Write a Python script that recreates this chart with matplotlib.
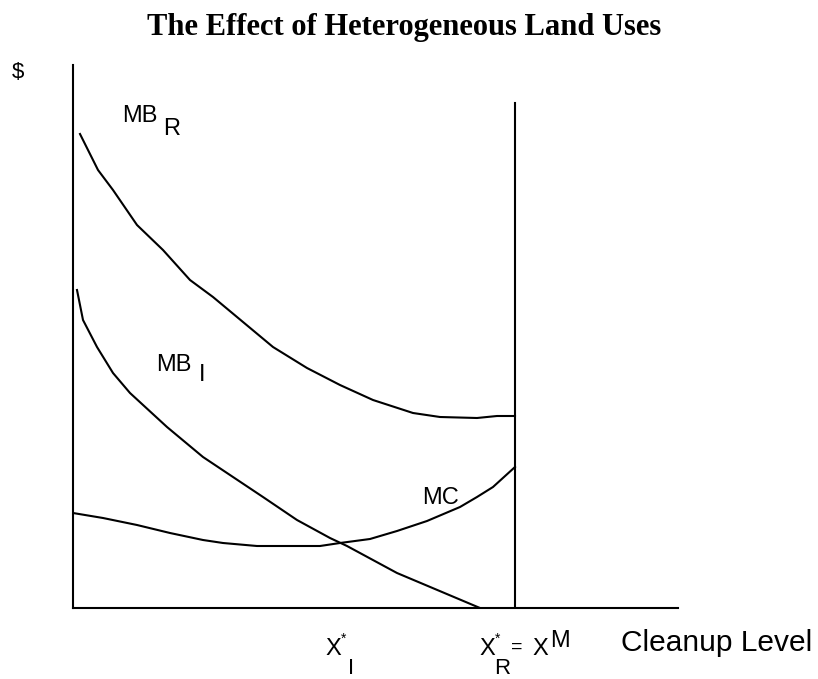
import numpy as np
import matplotlib.pyplot as plt

plt.rcParams['font.family'] = ['Liberation Sans', 'DejaVu Sans']

# curve values (x = cleanup level, y = $)
mbr_x = [0.14, 0.50, 0.80, 1.28, 1.80, 2.34, 2.80, 3.28, 4.00, 4.68, 5.34,
         6.00, 6.80, 7.34, 8.08, 8.48, 8.84]
mbr_y = [9.48, 8.76, 8.36, 7.66, 7.16, 6.56, 6.22, 5.82, 5.22, 4.80, 4.46,
         4.16, 3.90, 3.82, 3.80, 3.84, 3.84]

mbi_x = [0.08, 0.20, 0.48, 0.80, 1.14, 1.88, 2.60, 3.14, 3.80, 4.48, 5.14,
         5.48, 6.48, 8.14]
mbi_y = [6.36, 5.76, 5.22, 4.70, 4.30, 3.62, 3.02, 2.66, 2.22, 1.76, 1.40,
         1.24, 0.70, 0.00]

mc_x = [0.00, 0.60, 1.28, 1.94, 2.60, 3.00, 3.68, 4.94, 5.34, 5.94, 6.48,
        7.08, 7.74, 8.08, 8.40, 8.84]
mc_y = [1.90, 1.80, 1.66, 1.50, 1.36, 1.30, 1.24, 1.24, 1.30, 1.38, 1.54,
        1.74, 2.02, 2.22, 2.42, 2.82]

x_max = 8.84        # X*_R = X^M
x_max_top = 10.10

W, H = 818, 679
fig = plt.figure(figsize=(W / 100, H / 100), dpi=100)
ax = fig.add_axes([73 / W, (H - 608) / H, 605 / W, 543 / H])
ax.set_xlim(0, 12.1)
ax.set_ylim(0, 10.86)

lw = 1.5
ax.plot(mbr_x, mbr_y, color='black', lw=lw)
ax.plot(mbi_x, mbi_y, color='black', lw=lw)
ax.plot(mc_x, mc_y, color='black', lw=lw)
ax.plot([x_max, x_max], [0, x_max_top], color='black', lw=lw)

for s in ['top', 'right']:
    ax.spines[s].set_visible(False)
for s in ['left', 'bottom']:
    ax.spines[s].set_linewidth(lw)
ax.set_xticks([])
ax.set_yticks([])


def put(x, y, s, size=18, **kw):
    # place text at pixel position (from top-left)
    fig.text(x / W, 1 - y / H, s, fontsize=size, va='center', ha='left', **kw)


fig.text(404 / W, 1 - 28 / H, 'The Effect of Heterogeneous Land Uses',
         ha='center', va='center', fontsize=22, fontweight='bold',
         family='Liberation Serif')

put(12, 73, '$', size=16)
put(122, 116, 'MB', size=17)
put(163, 129, 'R', size=17)
put(156, 365, 'MB', size=17)
put(199, 375, 'I', size=17)
put(422, 498, 'MC', size=17)

put(325, 649, 'X', size=17)
put(341, 639, '*', size=10)
put(348, 668, 'I', size=16)

put(479, 649, 'X', size=17)
put(495, 639, '*', size=10)
put(494, 668, 'R', size=16)
put(511, 647, '=', size=14)
put(532, 649, 'X', size=17)
put(550, 641, 'M', size=17)

put(621, 643, 'Cleanup Level', size=21.5)

fig.savefig('out.png', dpi=100)
